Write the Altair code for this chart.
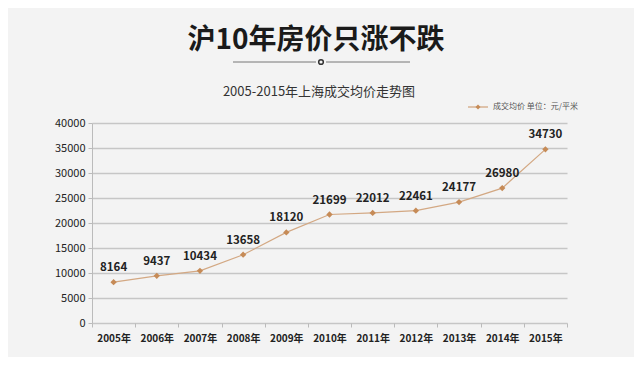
import altair as alt
import pandas as pd

years = ["2005年", "2006年", "2007年", "2008年", "2009年", "2010年",
         "2011年", "2012年", "2013年", "2014年", "2015年"]
prices = [8164, 9437, 10434, 13658, 18120, 21699, 22012, 22461, 24177, 26980, 34730]
y_ticks = [0, 5000, 10000, 15000, 20000, 25000, 30000, 35000, 40000]

title_text = "沪10年房价只涨不跌"
subtitle_text = "2005-2015年上海成交均价走势图"
legend_text = "成交均价 单位：元/平米"

df = pd.DataFrame({"year": years, "price": prices})

FONT = "Noto Sans CJK SC"
LINE_COLOR = "#d3a883"
MARK_COLOR = "#c68b57"

x = alt.X("year:N", sort=years, title=None,
          scale=alt.Scale(paddingInner=0, paddingOuter=0),
          axis=alt.Axis(labelAngle=0, labelFont=FONT, labelFontWeight="bold",
                        labelFontSize=10, labelColor="#222", domain=False,
                        ticks=True, tickBand="extent", tickColor="#bbb", tickSize=4,
                        labelPadding=6))
y = alt.Y("price:Q", title=None,
          scale=alt.Scale(domain=[0, 40000], nice=False),
          axis=alt.Axis(values=y_ticks, format="d", labelFont=FONT, labelFontSize=11,
                        labelColor="#222", grid=True, gridColor="#c6c6c6",
                        gridWidth=1.5, domainColor="#bbb", tickColor="#bbb",
                        tickSize=4, labelPadding=3))

base = alt.Chart(df)
line = base.mark_line(color=LINE_COLOR, strokeWidth=1.2).encode(x=x, y=y)
pts = base.mark_point(shape="diamond", filled=True, color=MARK_COLOR,
                      size=40, opacity=1).encode(x=x, y=y)
labels = base.mark_text(dy=-14, font=FONT, fontWeight="bold", fontSize=11.5,
                        color="#222").encode(x=x, y=y, text="price:Q")

ann = pd.DataFrame({"t": [0]})
a = alt.Chart(ann)
title = a.mark_text(font=FONT, fontSize=28, fontWeight="bold", color="#1a1a1a").encode(
    x=alt.value(224), y=alt.value(-82), text=alt.value(title_text))
deco1 = a.mark_rule(color="#777", strokeWidth=1).encode(
    x=alt.value(141), x2=alt.value(224), y=alt.value(-61))
deco2 = a.mark_rule(color="#777", strokeWidth=1).encode(
    x=alt.value(234), x2=alt.value(318), y=alt.value(-61))
deco_c = a.mark_point(shape="circle", filled=False, color="#333", size=22,
                      strokeWidth=1.5, opacity=1).encode(
    x=alt.value(229), y=alt.value(-61))
subtitle = a.mark_text(font=FONT, fontSize=13, color="#333").encode(
    x=alt.value(227), y=alt.value(-31), text=alt.value(subtitle_text))
leg_rule = a.mark_rule(color=LINE_COLOR, strokeWidth=1.3).encode(
    x=alt.value(376), x2=alt.value(396), y=alt.value(-16))
leg_pt = a.mark_point(shape="diamond", filled=True, color=MARK_COLOR, size=25,
                      opacity=1).encode(x=alt.value(386), y=alt.value(-16))
leg_text = a.mark_text(font=FONT, fontSize=8, color="#555", align="left").encode(
    x=alt.value(401), y=alt.value(-16), text=alt.value(legend_text))

chart = alt.layer(line, pts, labels, title, deco1, deco2, deco_c, subtitle,
                  leg_rule, leg_pt, leg_text).properties(
    width=475, height=200,
    padding={"left": 84, "top": 115, "right": 67, "bottom": 34},
    autosize=alt.AutoSizeParams(type="none"),
    background="#f3f3f3",
).configure_view(stroke=None)

chart.save("out.html", embed_options={"renderer": "svg", "actions": False})
